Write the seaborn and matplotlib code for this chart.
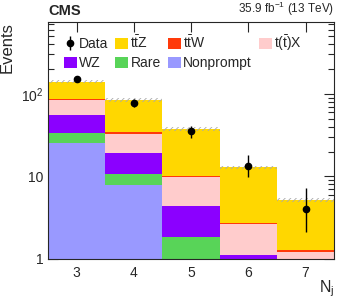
import numpy as np
import pandas as pd
import seaborn as sns
import matplotlib.pyplot as plt
from matplotlib.patches import Patch
from matplotlib.ticker import FixedLocator, FixedFormatter, LogLocator, NullFormatter

# ---------------------------------------------------------
# Data
# ---------------------------------------------------------
n_jets = [3, 4, 5, 6, 7]

nonprompt = [25.7, 7.9, 0.3, 0.3, 0.1]
rare = [8.3, 2.8, 1.55, 0.4, 0.15]
wz = [21.6, 8.4, 2.57, 0.42, 0.2]
tx = [29.0, 13.6, 5.4, 1.5, 0.77]
ttw = [2.5, 1.5, 0.4, 0.12, 0.06]
ttz = [53.9, 50.4, 27.2, 10.15, 3.92]

data_y = [152, 78, 35, 13.4, 4.0]
data_err_lo = [12, 9, 6, 3.6, 1.9]
data_err_hi = [12, 9, 6, 4.8, 3.3]

syst_rel = 0.05

processes = {
    "ttZ": ttz, "ttW": ttw, "tX": tx,
    "WZ": wz, "Rare": rare, "Nonprompt": nonprompt,
}
colors = {
    "ttZ": "#ffd700", "ttW": "#ff3a0a", "tX": "#ffcccc",
    "WZ": "#8b00ff", "Rare": "#58d458", "Nonprompt": "#9999ff",
}
labels = {
    "ttZ": r"t$\bar{\rm t}$Z", "ttW": r"t$\bar{\rm t}$W", "tX": r"t($\bar{\rm t}$)X",
    "WZ": "WZ", "Rare": "Rare", "Nonprompt": "Nonprompt",
}

rows = []
for proc, vals in processes.items():
    for nj, v in zip(n_jets, vals):
        rows.append({"Nj": nj, "process": proc, "events": v})
df = pd.DataFrame(rows)

# ---------------------------------------------------------
# Style
# ---------------------------------------------------------
sns.set_style("ticks")
plt.rcParams["font.family"] = ["Liberation Sans", "DejaVu Sans"]
plt.rcParams["mathtext.fontset"] = "custom"
plt.rcParams["mathtext.rm"] = "Liberation Sans"
plt.rcParams["mathtext.it"] = "Liberation Sans:italic"
plt.rcParams["hatch.linewidth"] = 0.6

fig = plt.figure(figsize=(3.49, 2.98), dpi=100)
ax = fig.add_axes([0.1375, 0.131, 0.82, 0.795])

sns.histplot(data=df, x="Nj", weights="events", hue="process",
             hue_order=list(processes.keys()), palette=colors,
             multiple="stack", discrete=True, element="bars", fill=True,
             alpha=1, linewidth=0, antialiased=False, legend=False, ax=ax)

# total with hatched uncertainty band
total = np.sum([processes[p] for p in processes], axis=0)
ax.bar(n_jets, 2 * syst_rel * total, bottom=total * (1 - syst_rel), width=1.0,
       fill=False, hatch="//////", edgecolor="#aaaaaa", linewidth=0)

# data points
data_handle = ax.errorbar(n_jets, data_y, yerr=[data_err_lo, data_err_hi], fmt="o",
                          color="black", markersize=4.5, elinewidth=1, capsize=0,
                          zorder=5, label="Data")

ax.set_yscale("log")
ax.set_ylim(1, 740)
ax.set_xlim(2.5, 7.5)

ax.xaxis.set_major_locator(FixedLocator(n_jets))
ax.yaxis.set_major_locator(FixedLocator([1, 10, 100]))
ax.yaxis.set_major_formatter(FixedFormatter(["1", "10", r"10$^2$"]))
ax.yaxis.set_minor_locator(LogLocator(base=10, subs=np.arange(2, 10)))
ax.yaxis.set_minor_formatter(NullFormatter())
ax.tick_params(which="both", direction="in", top=True, right=True,
               labelsize=10, width=0.8)
ax.tick_params(which="major", length=7)
ax.tick_params(which="minor", length=4)
ax.tick_params(axis="x", pad=5)
for s in ax.spines.values():
    s.set_linewidth(0.8)

ax.set_xlabel(r"N$_{\rm j}$", fontsize=11.5, loc="right", labelpad=-1)
ax.set_ylabel("Events", fontsize=12, loc="top", labelpad=4)

ax.text(0.0, 1.015, "CMS", transform=ax.transAxes, fontsize=10.5,
        fontweight="bold", ha="left", va="bottom")
ax.text(1.0, 1.015, r"35.9 fb$^{-1}$ (13 TeV)", transform=ax.transAxes,
        fontsize=8.5, ha="right", va="bottom")

# legend (column-major fill: Data/WZ, ttZ/Rare, ttW/Nonprompt, tX)
def box(p):
    return Patch(facecolor=colors[p], edgecolor="none", label=labels[p])

handles = [data_handle, box("WZ"), box("ttZ"), box("Rare"),
           box("ttW"), box("Nonprompt"), box("tX")]
ax.legend(handles=handles, ncol=4, loc="upper left",
          bbox_to_anchor=(0.035, 0.975), frameon=False, fontsize=10,
          handlelength=0.95, handleheight=0.9, handletextpad=0.15,
          columnspacing=0.5, labelspacing=0.35, borderaxespad=0)

fig.savefig("out.png", dpi=100)
